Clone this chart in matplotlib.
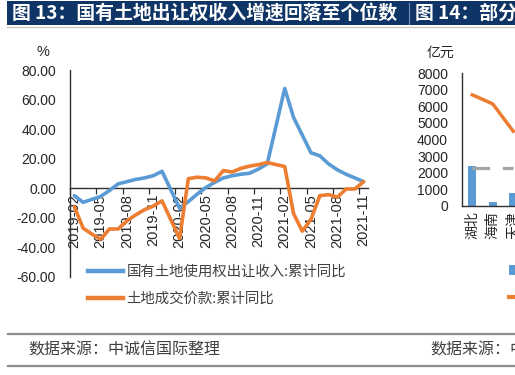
import numpy as np
import matplotlib
matplotlib.use("Agg")
import matplotlib.pyplot as plt
from matplotlib.patches import Rectangle, Patch
from matplotlib.lines import Line2D

# ---------------- data ----------------
months = ["2019-02", "2019-03", "2019-04", "2019-05", "2019-06", "2019-07", "2019-08",
          "2019-09", "2019-10", "2019-11", "2019-12", "2020-01", "2020-02", "2020-03",
          "2020-04", "2020-05", "2020-06", "2020-07", "2020-08", "2020-09", "2020-10",
          "2020-11", "2020-12", "2021-01", "2021-02", "2021-03", "2021-04", "2021-05",
          "2021-06", "2021-07", "2021-08", "2021-09", "2021-10", "2021-11"]
nan = np.nan
land_revenue_yoy = [-5.0, -9.5, -7.5, -5.5, -1.5, 3.0, 4.5, 6.0, 7.0, 8.5, 11.5, nan,
                    -13.5, -9.0, -4.0, 0.5, 4.0, 7.0, 8.5, 9.5, 10.2, 13.0, 16.5, nan,
                    67.5, 48.0, 36.0, 24.0, 22.0, 16.5, 12.5, 9.5, 7.0, 4.5]
land_deal_yoy = [-12.5, -27.0, -31.0, -34.5, -27.5, -27.5, -22.0, -18.0, -14.5, -12.0, -8.5, nan,
                 -34.0, 6.5, 7.5, 7.0, 5.0, 12.0, 11.0, 13.5, 15.0, 16.0, 17.4, nan,
                 14.7, -17.0, -29.0, -21.0, -5.0, -4.3, -6.0, -0.5, -0.5, 4.5]
series_names = ["国有土地使用权出让收入:累计同比", "土地成交价款:累计同比"]
y_ticks = [-60, -40, -20, 0, 20, 40, 60, 80]

# partial neighbouring chart (图 14)
provinces = ["湖北", "海南", "天津"]
province_bars = [2380, 250, 750]
province_line = [6700, 6150, 4500]
province_avg = [2300, 2300, 2300]
right_y_ticks = [0, 1000, 2000, 3000, 4000, 5000, 6000, 7000, 8000]

BLUE = "#5b9bd5"
ORANGE = "#ed7d31"
GRAY = "#a5a5a5"
NAVY = "#0f3566"
TXT = "#262626"

plt.rcParams["font.family"] = ["Liberation Sans", "Noto Sans CJK SC"]
CJK = ["Noto Sans CJK SC", "DejaVu Sans"]

W, H = 515, 375
fig = plt.figure(figsize=(W / 100, H / 100), dpi=100)
fig.patch.set_facecolor("white")


def fx(px):
    return px / W


def fy(py):
    return 1 - py / H


# ---------------- title bar ----------------
fig.add_artist(Rectangle((fx(7), fy(25)), fx(520 - 7), 24 / H, transform=fig.transFigure,
                         facecolor=NAVY, edgecolor="none", zorder=0))
fig.add_artist(Line2D([fx(7), fx(520)], [fy(26.5)] * 2, transform=fig.transFigure,
                      color="#c8c8c8", lw=1))
fig.add_artist(Line2D([fx(408.5)] * 2, [fy(3), fy(24)], transform=fig.transFigure,
                      color="#6f8db5", lw=0.8))
fig.text(fx(12), fy(13.5), "图 13：国有土地出让权收入增速回落至个位数", color="white",
         fontsize=13.6, weight="bold", va="center", ha="left", family=CJK)
fig.text(fx(415), fy(13.5), "图 14：部分省份", color="white",
         fontsize=13.6, weight="bold", va="center", ha="left", family=CJK)

# ---------------- main chart ----------------
ax = fig.add_axes([fx(70), fy(277), fx(368) - fx(70), (277 - 70) / H])
ax.spines["bottom"].set_position(("data", 0))
x = np.arange(len(months))
for vals, col in [(land_revenue_yoy, BLUE), (land_deal_yoy, ORANGE)]:
    v = np.array(vals, dtype=float)
    m = np.isfinite(v)
    ax.plot(x[m], v[m], color=col, lw=2.6, solid_joinstyle="round",
            solid_capstyle="round", zorder=3)

ax.set_xlim(-0.5, len(months) - 0.5)
ax.set_ylim(-60, 80)
ax.set_yticks(y_ticks)
ax.set_yticklabels([f"{v:.2f}" for v in y_ticks])
ax.tick_params(axis="y", length=0, pad=10, labelsize=10, labelcolor=TXT)

lab_idx = list(range(0, len(months), 3))
ax.set_xticks(lab_idx)
ax.set_xticklabels([months[i] for i in lab_idx], rotation=90, va="top", ha="center")
ax.tick_params(axis="x", which="major", length=0, pad=4, labelsize=10.5, labelcolor=TXT)
ax.set_xticks([i - 0.5 for i in lab_idx], minor=True)
ax.tick_params(axis="x", which="minor", length=4, width=0.9, color="#303030", direction="out")

for s in ["top", "right"]:
    ax.spines[s].set_visible(False)
for s in ["left", "bottom"]:
    ax.spines[s].set_color("#303030")
    ax.spines[s].set_linewidth(1.0)
ax.patch.set_alpha(0)

fig.text(fx(43), fy(52), "%", fontsize=10.5, color=TXT, ha="center", va="center")

handles = [Line2D([], [], color=BLUE, lw=3.2), Line2D([], [], color=ORANGE, lw=3.2)]
fig.legend(handles, series_names, loc="upper left", bbox_to_anchor=(fx(88), fy(265)),
           bbox_transform=fig.transFigure, frameon=False, borderpad=0, borderaxespad=0,
           handlelength=2.4, handletextpad=0.25, labelspacing=0.9,
           prop={"family": CJK, "size": 10.4}, labelcolor="#404040")

# ---------------- partial right chart ----------------
ax2 = fig.add_axes([fx(462), fy(205.7), 205 / W, (205.7 - 73.3) / H])
xp = np.arange(len(provinces))
ax2.bar(xp, province_bars, width=0.4, color=BLUE, zorder=2)
ax2.plot(xp, province_line, color=ORANGE, lw=2.5, zorder=3)
ax2.plot(xp, province_avg, color=GRAY, lw=2.3, dashes=(5.5, 4), zorder=3)
ax2.set_xlim(-0.5, 9.5)
ax2.set_ylim(0, 8000)
ax2.set_yticks(right_y_ticks)
ax2.tick_params(axis="y", length=0, pad=10, labelsize=10, labelcolor=TXT)
ax2.set_xticks(xp)
ax2.set_xticklabels(provinces, rotation=90, family=CJK, fontsize=10)
ax2.tick_params(axis="x", length=0, pad=4, labelcolor=TXT)
for s in ["top", "right"]:
    ax2.spines[s].set_visible(False)
for s in ["left", "bottom"]:
    ax2.spines[s].set_color("#303030")
    ax2.spines[s].set_linewidth(1.0)
ax2.patch.set_alpha(0)
fig.text(fx(440), fy(53), "亿元", fontsize=10, color=TXT, ha="center", va="center", family=CJK)

fig.legend([Patch(facecolor=BLUE), Line2D([], [], color=ORANGE, lw=3)],
           ["土地出让收入", "土地出让收入/债务"], loc="upper left",
           bbox_to_anchor=(fx(509), fy(264)), bbox_transform=fig.transFigure,
           frameon=False, borderpad=0, borderaxespad=0, handlelength=0.6,
           handleheight=0.7, handletextpad=0.4, labelspacing=0.8,
           prop={"family": CJK, "size": 10.3})

# ---------------- footer ----------------
for yy in (334, 366):
    fig.add_artist(Line2D([fx(8), fx(520)], [fy(yy)] * 2, transform=fig.transFigure,
                          color="#8c8c8c", lw=1.6))
fig.text(fx(28), fy(350), "数据来源：中诚信国际整理", fontsize=11.5, color="#404040",
         va="center", ha="left", family=CJK)
fig.text(fx(430), fy(350), "数据来源：中诚信国际整理", fontsize=11.5, color="#404040",
         va="center", ha="left", family=CJK)

fig.savefig("out.png", dpi=100)
